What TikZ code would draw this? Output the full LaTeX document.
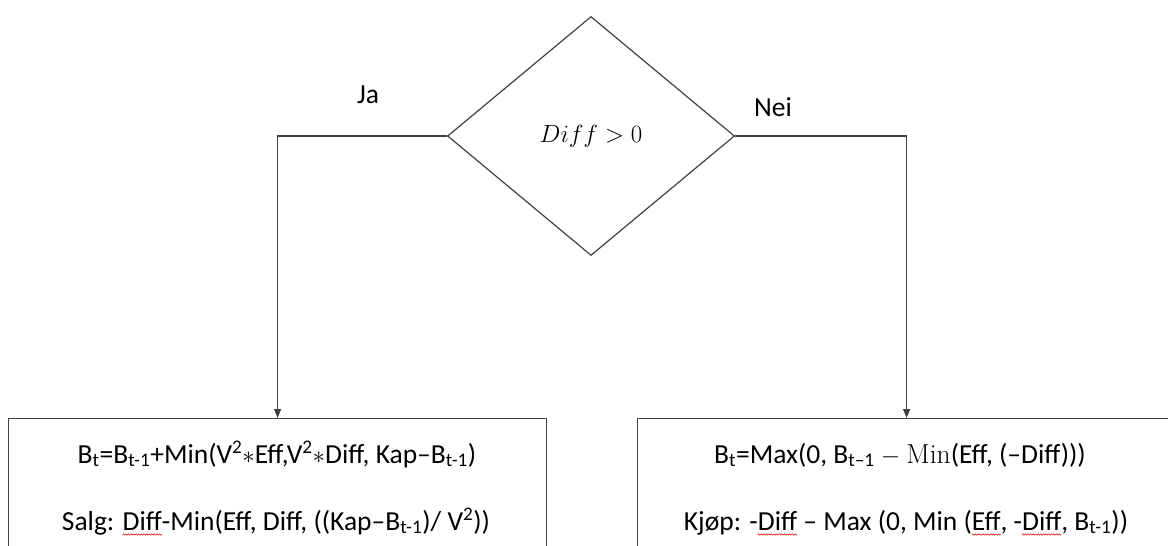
\documentclass[tikz,border=0pt]{standalone}
\usepackage{fontspec}
\setmainfont{Carlito}
\newfontfamily\serifmath{Latin Modern Roman}
\usetikzlibrary{shapes.geometric,arrows.meta,decorations.pathmorphing}

% red wavy underline for flagged words
\newcommand\spellwave[1]{\tikz[baseline=(w.base)]{%
  \node[inner sep=0pt] (w) {#1};%
  \draw[overlay, red!85!black, line width=0.5pt, decorate,
        decoration={snake, amplitude=0.7pt, segment length=2.6pt}]
    ([yshift=-4.5pt]w.base west) -- ([yshift=-4.5pt]w.base east);}}

\begin{document}
\begin{tikzpicture}[x=1pt,y=-1pt,
  every node/.style={font=\fontsize{27.5}{33}\selectfont, inner sep=0pt},
  edge/.style={draw=black!75, line width=1.2pt},
  flow/.style={edge, -{Triangle[length=9pt,width=7pt]}},
  decision/.style={diamond, draw=black!75, line width=1.2pt,
    minimum width=287pt, minimum height=239pt,
    font=\fontsize{28}{34}\selectfont},
  procbox/.style={rectangle, draw=black!75, line width=1.2pt,
    minimum width=538pt, minimum height=200pt, anchor=north west},
]
\useasboundingbox (0,0) rectangle (1168,546);
\clip (0,0) rectangle (1168,546);

% decision
\node[decision] (d) at (591,136) {$Diff > 0$};

% outcome boxes
\node[procbox] (lbox) at (8,418) {};
\node[procbox] (rbox) at (637,418) {};

% branch labels
\node (ja) at (368,95) {Ja};
\node (nei) at (773,107) {Nei};

% connectors
\draw[flow] (d.west) -| (lbox.north);
\draw[flow] (d.east) -| (rbox.north);

% box contents
\node[anchor=base] (l1) at (277,463)
  {B\textsubscript{t}=B\textsubscript{t-1}+Min(V\textsuperscript{2}$\ast$Eff,V\textsuperscript{2}$\ast$Diff, Kap–B\textsubscript{t-1})};
\node[anchor=base] (l2) at (276,530)
  {Salg: \spellwave{Diff}-Min(Eff, Diff, ((Kap–B\textsubscript{t-1})/ V\textsuperscript{2}))};
\node[anchor=base] (r1) at (900,463)
  {B\textsubscript{t}=Max(0, B\textsubscript{t–1} $-$ {\serifmath Min}(Eff, (–Diff)))};
\node[anchor=base] (r2) at (906,530)
  {Kjøp: -\spellwave{Diff} – Max (0, Min (\spellwave{Eff}, -\spellwave{Diff}, B\textsubscript{t-1}))};
\end{tikzpicture}
\end{document}
